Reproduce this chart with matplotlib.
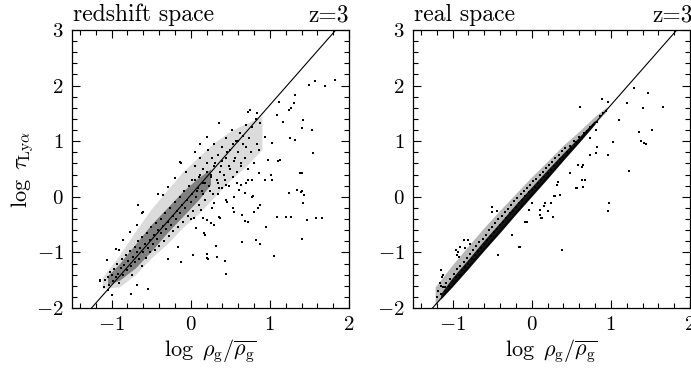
import numpy as np
import matplotlib
matplotlib.use("Agg")
import matplotlib.pyplot as plt
from matplotlib.ticker import MultipleLocator

plt.rcParams['font.family'] = 'cmr10'
plt.rcParams['mathtext.fontset'] = 'cm'
plt.rcParams['axes.formatter.use_mathtext'] = True

# fitted relation drawn in both panels: log tau = slope * log rho + icpt
slope = 1.62
icpt = 0.03

# ---- redshift space ----
# envelope of the cloud (outer) and its densest part (inner)
rs_out_x = [-1.12, -0.9, -0.7, -0.5, -0.3, -0.1, 0.1, 0.3, 0.5, 0.7, 0.9]
rs_out_lo = [-1.65, -1.62, -1.40, -1.10, -0.85, -0.55, -0.30, 0.00, 0.30, 0.55, 0.85]
rs_out_hi = [-1.45, -1.05, -0.62, -0.22, 0.12, 0.45, 0.72, 0.98, 1.18, 1.32, 1.45]
rs_in_x = [-1.05, -0.9, -0.7, -0.5, -0.3, -0.1, 0.1, 0.25]
rs_in_lo = [-1.58, -1.50, -1.28, -0.98, -0.65, -0.35, -0.05, 0.22]
rs_in_hi = [-1.42, -1.20, -0.85, -0.50, -0.20, 0.10, 0.35, 0.50]

# redshift space: individual points
rs_pts = [
    # upper right
    (1.50, 2.01), (1.57, 2.09), (1.70, 1.99), (1.82, 2.10), (1.32, 1.83), (1.11, 1.71),
    (1.30, 1.68), (1.24, 1.56), (1.27, 1.60), (0.73, 1.53), (0.84, 1.50), (1.09, 1.47),
    (1.42, 1.38), (1.17, 1.35), (1.53, 1.20), (1.40, 1.23), (1.32, 1.02), (1.26, 1.05),
    (1.55, 0.78), (1.13, 0.66), (1.40, 0.42), (1.34, 0.12), (1.40, 0.10), (0.88, 1.32),
    (0.94, 1.08), (1.03, 0.96), (0.86, 0.84), (0.98, 0.66), (1.10, 0.64), (0.86, 0.42),
    (0.73, 0.30), (0.94, 0.30), (0.69, 0.06), (0.79, 0.02),
    # middle / lower right
    (1.09, -0.37), (1.20, -0.36), (1.27, -0.37), (1.58, -0.38), (1.66, -0.38), (1.47, -0.42),
    (1.40, -0.75), (1.05, -1.06), (0.95, -0.54), (0.88, -0.85), (0.82, -0.78), (0.65, -0.81),
    (0.44, -1.38), (0.43, -1.15), (0.33, -1.09), (0.32, -0.88), (0.21, -1.02), (0.21, -1.10),
    (0.18, -0.69), (1.39, 0.09), (1.24, 0.07), (1.42, -0.12), (1.43, 0.04), (1.38, 0.42),
    (1.03, 0.30), (1.02, 0.40), (0.88, -0.15), (0.85, -0.20), (0.77, 0.00), (0.80, -0.27),
    (0.73, -0.45), (0.69, -0.43), (0.65, -0.33), (0.55, -0.27), (0.54, -0.20), (0.46, -0.09),
    (0.55, 0.00), (0.61, 0.12), (0.63, 0.21), (0.70, 0.24), (0.77, 0.30), (0.44, 0.21),
    (0.36, 0.15), (0.36, -0.36), (0.37, -0.39), (0.29, -0.50), (0.25, -0.47), (0.21, -0.42),
    (0.29, -0.12), (0.27, -0.21), (0.15, -0.39), (0.13, -0.24),
    # around the lower / left edge
    (-1.06, -1.14), (-1.14, -1.50), (-1.02, -1.35), (-1.04, -1.68), (-1.00, -1.77), (-0.75, -1.74),
    (-0.68, -1.59), (-0.54, -1.65), (-0.91, -0.96), (-0.85, -0.78), (-0.77, -0.63), (-0.68, -0.51),
    (-0.60, -0.27), (-0.66, -0.15), (-0.35, 0.03), (-0.41, 0.05), (-0.29, 0.18), (-0.20, 0.33),
    (-0.06, 0.45), (-0.12, 0.60), (-0.29, -1.11), (-0.12, -1.17), (0.03, -1.05), (0.22, -1.11),
    (-0.16, -0.90), (0.07, -0.57), (0.17, -0.66), (0.00, -0.40), (0.04, -0.38), (-0.94, -0.93),
    (-0.61, -0.30), (-1.15, -1.51),
    # diffuse part above the core
    (0.05, 0.55), (0.10, 0.35), (0.12, 0.70), (0.15, 0.50), (0.18, 0.25), (0.20, 0.60),
    (0.22, 0.85), (0.25, 0.40), (0.27, 0.70), (0.30, 0.55), (0.30, 0.95), (0.33, 0.30),
    (0.35, 0.75), (0.36, 1.32), (0.38, 0.55), (0.40, 0.90), (0.42, 0.40), (0.44, 0.70),
    (0.45, 1.05), (0.48, 0.55), (0.50, 0.85), (0.52, 1.20), (0.53, 0.35), (0.55, 0.65),
    (0.57, 1.00), (0.58, 0.45), (0.60, 0.80), (0.62, 1.15), (0.64, 0.55), (0.66, 0.95),
    (0.68, 0.70), (0.70, 1.30), (0.72, 0.50), (0.74, 1.05), (0.75, 1.56), (0.76, 0.80),
    (0.78, 1.25), (0.80, 0.60), (0.82, 1.40), (0.84, 0.95), (0.21, 1.07), (0.06, 0.81),
    (-0.14, 0.63), (0.12, 0.95), (0.02, 0.30), (0.08, 0.10), (0.16, 0.05), (0.24, 0.10),
    (0.40, 0.15), (0.48, 0.20), (0.58, 0.25), (0.34, 0.05), (0.45, -0.05),
    # core
    (-1.10, -1.62), (-1.08, -1.50), (-1.05, -1.45), (-1.03, -1.58), (-1.00, -1.40), (-0.98, -1.52),
    (-0.97, -1.30), (-0.95, -1.45), (-0.93, -1.20), (-0.92, -1.38), (-0.90, -1.55), (-0.88, -1.28),
    (-0.87, -1.12), (-0.85, -1.40), (-0.84, -1.22), (-0.82, -1.05), (-0.80, -1.32), (-0.79, -1.15),
    (-0.77, -0.98), (-0.76, -1.25), (-0.74, -1.40), (-0.73, -1.08), (-0.71, -0.90), (-0.70, -1.18),
    (-0.68, -1.00), (-0.67, -0.80), (-0.65, -1.12), (-0.64, -0.92), (-0.62, -1.25), (-0.61, -0.72),
    (-0.60, -1.00), (-0.58, -0.85), (-0.57, -1.10), (-0.55, -0.65), (-0.54, -0.92), (-0.52, -0.78),
    (-0.51, -1.00), (-0.50, -0.55), (-0.48, -0.85), (-0.47, -0.68), (-0.45, -0.95), (-0.44, -0.48),
    (-0.42, -0.75), (-0.41, -0.60), (-0.40, -0.88), (-0.38, -0.40), (-0.37, -0.65), (-0.35, -0.52),
    (-0.34, -0.80), (-0.32, -0.30), (-0.31, -0.58), (-0.29, -0.45), (-0.28, -0.70), (-0.26, -0.20),
    (-0.25, -0.50), (-0.23, -0.35), (-0.22, -0.62), (-0.20, -0.10), (-0.19, -0.40), (-0.17, -0.25),
    (-0.16, -0.55), (-0.14, 0.00), (-0.13, -0.30), (-0.11, -0.15), (-0.10, -0.45), (-0.08, 0.10),
    (-0.07, -0.20), (-0.05, -0.05), (-0.04, -0.35), (-0.02, 0.20), (0.00, -0.10), (0.02, 0.05),
    (0.03, -0.25), (0.05, 0.30), (0.07, 0.00), (0.09, 0.15), (0.10, -0.15), (0.12, 0.40),
    (0.14, 0.10), (0.16, 0.25), (0.18, -0.05), (0.20, 0.45), (0.23, 0.20), (0.26, 0.35),
    (0.28, 0.05), (0.31, 0.60), (0.34, 0.25), (0.37, 0.45), (0.40, 0.65), (0.43, 0.30),
    (0.46, 0.80), (0.50, 0.50), (0.53, 0.95), (0.56, 0.70), (0.60, 1.00), (0.63, 0.60),
    (0.66, 1.10), (0.70, 0.90),
]

# ---- real space ----
re_out_x = [-1.22, -1.0, -0.8, -0.6, -0.4, -0.2, 0.0, 0.2, 0.4, 0.6, 0.8, 0.95]
re_out_lo = [-1.95, -1.61, -1.29, -0.96, -0.64, -0.31, 0.01, 0.33, 0.66, 0.98, 1.31, 1.55]
re_out_hi = [-1.62, -1.22, -0.88, -0.55, -0.24, 0.06, 0.36, 0.64, 0.93, 1.18, 1.45, 1.62]
re_in_x = [-1.15, -1.0, -0.8, -0.6, -0.4, -0.2, 0.0, 0.2, 0.4, 0.6, 0.8]
re_in_lo = [-1.84, -1.61, -1.29, -0.96, -0.64, -0.31, 0.01, 0.33, 0.66, 0.98, 1.31]
re_in_hi = [-1.74, -1.45, -1.12, -0.78, -0.46, -0.13, 0.18, 0.49, 0.79, 1.08, 1.38]

re_pts = [
    # scattered points
    (0.61, 1.62), (0.89, 1.76), (0.97, 1.71), (1.29, 1.95), (1.47, 1.86), (1.66, 1.62),
    (1.41, 1.59), (1.20, 1.68), (1.10, 1.38), (1.35, 1.17), (1.52, 1.20), (1.38, 1.00),
    (1.42, 0.97), (1.45, 0.95), (1.23, 0.47), (1.03, 0.99), (0.97, 0.75), (0.83, 0.89),
    (0.81, 1.20), (0.74, 1.05), (0.81, 0.78), (0.74, 0.76), (0.65, 0.57), (0.58, 0.57),
    (0.64, 0.53), (0.48, 0.42), (0.63, 0.30), (0.67, 0.30), (0.32, 0.21), (0.65, 0.18),
    (0.56, 0.16), (0.57, 0.15), (0.36, 0.03), (0.28, 0.02), (0.30, 0.02), (0.17, -0.12),
    (0.15, -0.17), (0.11, -0.24), (-0.04, -0.24), (0.98, -0.11), (0.97, -0.25), (0.27, -0.36),
    (0.12, -0.39), (-0.06, -0.45), (0.38, -0.96), (0.33, 0.27), (-0.15, -0.90), (-0.42, -1.05),
    (-1.15, -1.32), (-1.16, -1.55), (-1.13, -1.45), (-1.15, -1.60), (-1.10, -1.62), (-1.12, -1.40),
    (-0.96, -0.96), (-0.93, -1.00), (-0.92, -1.08), (-0.95, -1.05), (-0.90, -0.90), (-0.86, -0.78),
    (-0.80, -0.78), (-0.78, -0.85), (-0.84, -0.92), (-0.50, -0.18), (-0.44, -0.25), (-0.50, -0.28),
    (-0.08, -0.45), (-0.16, -0.90), (0.11, -0.33), (0.00, -0.12), (0.24, -0.12), (0.13, -0.39),
    (-0.25, -0.69), (0.20, -0.25),
    # just above the line
    (-1.20, -1.80), (-1.18, -1.70), (-1.15, -1.75), (-1.12, -1.62), (-1.10, -1.70), (-1.08, -1.55),
    (-1.05, -1.60), (-1.03, -1.48), (-1.00, -1.52), (-0.98, -1.38), (-0.96, -1.45), (-0.94, -1.30),
    (-0.92, -1.40), (-0.90, -1.25), (-0.88, -1.32), (-0.86, -1.18), (-0.84, -1.26), (-0.82, -1.10),
    (-0.80, -1.20), (-0.78, -1.02), (-0.76, -1.12), (-0.74, -0.95), (-0.72, -1.05), (-0.70, -0.88),
    (-0.68, -0.98), (-0.66, -0.82), (-0.64, -0.92), (-0.62, -0.75), (-0.60, -0.85), (-0.58, -0.68),
    (-0.56, -0.78), (-0.54, -0.60), (-0.52, -0.70), (-0.50, -0.55), (-0.48, -0.64), (-0.46, -0.48),
    (-0.44, -0.58), (-0.42, -0.40), (-0.40, -0.50), (-0.38, -0.35), (-0.36, -0.45), (-0.34, -0.28),
    (-0.32, -0.38), (-0.30, -0.22), (-0.28, -0.30), (-0.26, -0.15), (-0.24, -0.25), (-0.22, -0.08),
    (-0.20, -0.18), (-0.18, -0.02), (-0.16, -0.12), (-0.14, 0.05), (-0.12, -0.05), (-0.10, 0.10),
    (-0.08, 0.02), (-0.06, 0.15), (-0.04, 0.08), (-0.02, 0.22), (0.00, 0.12), (0.02, 0.28),
    (0.04, 0.18), (0.06, 0.32), (0.08, 0.24), (0.10, 0.40), (0.12, 0.30), (0.14, 0.45),
    (0.16, 0.36), (0.18, 0.52), (0.20, 0.42), (0.22, 0.58), (0.24, 0.48), (0.26, 0.62),
    (0.28, 0.55), (0.30, 0.70), (0.32, 0.60), (0.34, 0.76), (0.36, 0.68), (0.38, 0.82),
    (0.40, 0.72), (0.42, 0.88), (0.45, 0.80), (0.48, 0.92), (0.50, 0.88), (0.53, 1.00),
    (0.56, 0.98), (0.60, 1.08), (0.63, 1.05), (0.66, 1.15), (0.70, 1.18), (0.74, 1.25),
    (0.78, 1.30), (0.82, 1.35), (0.86, 1.45), (0.90, 1.50), (0.94, 1.55),
]

W, H = 691, 375
fig = plt.figure(figsize=(W / 100, H / 100), dpi=100)
ax1 = fig.add_axes([72 / W, 67 / H, 277 / W, 278 / H])
ax2 = fig.add_axes([413 / W, 67 / H, 277 / W, 278 / H])

panels = [
    (ax1, (rs_out_x, rs_out_lo, rs_out_hi), (rs_in_x, rs_in_lo, rs_in_hi), rs_pts,
     ('0.86', '0.5'), 'redshift space', 349),
    (ax2, (re_out_x, re_out_lo, re_out_hi), (re_in_x, re_in_lo, re_in_hi), re_pts,
     ('0.72', '0.08'), 'real space', 693),
]

xline = np.array([-1.5, 2.0])
for ax, outer, inner, pts, cols, title, zpx in panels:
    ax.fill_between(*outer, color=cols[0], lw=0)
    ax.fill_between(*inner, color=cols[1], lw=0)
    px, py = zip(*pts)
    ax.scatter(px, py, s=0.6, marker='s', color='k', linewidths=0)
    ax.plot(xline, slope * xline + icpt, color='k', lw=0.8)
    ax.set_xlim(-1.5, 2)
    ax.set_ylim(-2, 3)
    ax.xaxis.set_major_locator(MultipleLocator(1))
    ax.xaxis.set_minor_locator(MultipleLocator(0.2))
    ax.yaxis.set_major_locator(MultipleLocator(1))
    ax.yaxis.set_minor_locator(MultipleLocator(0.2))
    ax.tick_params(which='both', direction='in', top=True, right=True, labelsize=15, width=0.8)
    ax.tick_params(which='major', length=6, pad=6)
    ax.tick_params(which='minor', length=3.5)
    for s in ax.spines.values():
        s.set_linewidth(0.9)
    ax.set_xlabel(r'$\log\ \rho_{\rm g}/\overline{\rho_{\rm g}}$', fontsize=16, labelpad=2)
    ax.text(0.005, 1.032, title, transform=ax.transAxes, fontsize=17, ha='left', va='baseline')
    fig.text(zpx / W, 1 - 21 / H, 'z=3', fontsize=17, ha='right', va='baseline')

ax1.set_ylabel(r'$\log\ \tau_{\rm Ly\alpha}$', fontsize=16, labelpad=0)

fig.savefig('out.png', dpi=100)
